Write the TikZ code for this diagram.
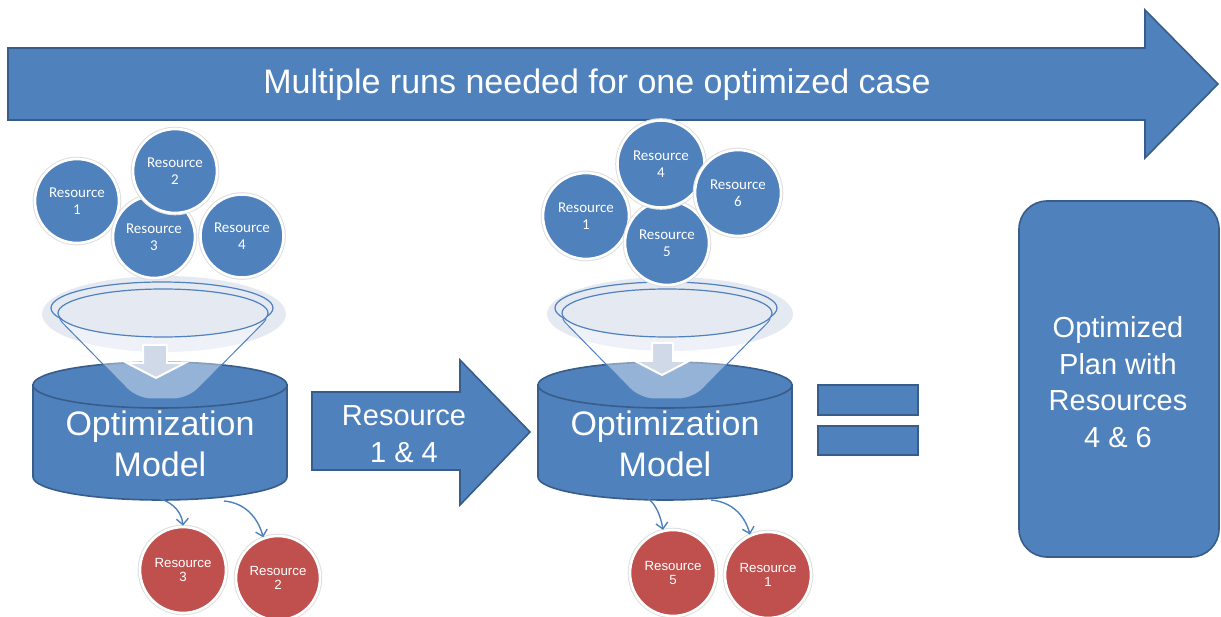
\documentclass[tikz,border=0pt]{standalone}
\usepackage{fontspec}
\setmainfont{Liberation Sans}
\newfontfamily\carlito{Carlito}
\usetikzlibrary{arrows.meta}
\definecolor{bfill}{HTML}{4F81BD}
\definecolor{bdark}{HTML}{385D8A}
\definecolor{rfill}{HTML}{C0504D}
\definecolor{lightel}{HTML}{E4E9F2}
\definecolor{farrow}{HTML}{D0D9E7}
\tikzset{
  bshape/.style={fill=bfill, draw=bdark, line width=1.6pt},
  bcirc/.style={circle, fill=bfill, draw=white, line width=2.6pt, inner sep=0pt,
    text=white, align=center, font=\carlito\fontsize{15}{17}\selectfont,
    preaction={draw=black!13, line width=4.6pt}},
  rcirc/.style={circle, fill=rfill, draw=white, line width=2.6pt, inner sep=0pt,
    text=white, align=center, font=\fontsize{13.3}{14.5}\selectfont,
    preaction={draw=black!13, line width=4.6pt}},
  bigtext/.style={text=white, align=center},
  cone/.style={fill=white, fill opacity=0.4, draw=bfill, draw opacity=1, line width=1pt, rounded corners=14pt},
  ring/.style={fill=lightel, draw=bfill, line width=1.2pt},
  farr/.style={fill=farrow, draw=white, line width=2pt},
  outarr/.style={draw=bfill, line width=1.4pt, -{Straight Barb[length=6pt,width=12pt]}},
}
\begin{document}
\begin{tikzpicture}[x=1pt,y=-1pt]
\useasboundingbox (0,0) rectangle (1221,617);

% top arrow
\draw[bshape] (8,48) -- (1145,48) -- (1145,10) -- (1218,84) -- (1145,158) -- (1145,120) -- (8,120) -- cycle;
\node[bigtext, font=\fontsize{34}{40}\selectfont] (title) at (597,85) {Multiple runs needed for one optimized case};

% ===== left group =====
\draw[bshape] (33,385) -- (33,477) arc[start angle=180, end angle=360, x radius=127pt, y radius=23pt] -- (287,385) -- cycle;
\draw[bshape] (160,385) ellipse[x radius=127pt, y radius=23pt];
\fill[lightel] (164,314) ellipse[x radius=122pt, y radius=38pt];
\draw[cone] (53,313) -- (137,399) -- (188,399) -- (273,313) -- cycle;
\draw[ring] (162,308) ellipse[x radius=111pt, y radius=26pt];
\draw[ring] (163,313) ellipse[x radius=105pt, y radius=24pt];
\draw[farr] (143,345) -- (167,345) -- (167,363) -- (185,363) -- (156,378) -- (127,363) -- (143,363) -- cycle;
\node[bigtext, font=\fontsize{34}{41}\selectfont] (om1) at (160,444) {Optimization\\Model};

\node[bcirc, minimum size=84pt] (a1) at (77,201) {Resource\\1};
\node[bcirc, minimum size=82pt] (a3) at (154,237) {Resource\\3};
\node[bcirc, minimum size=83pt] (a4) at (242,236) {Resource\\4};
\node[bcirc, minimum size=84pt] (a2) at (175,171) {Resource\\2};

\node[rcirc, minimum size=86pt] (r13) at (183,570) {Resource\\3};
\node[rcirc, minimum size=84pt] (r12) at (278,578) {Resource\\2};
\coordinate (s1a) at (151,497);
\coordinate (s1b) at (224,501);
\draw[outarr] (s1a) to[out=-5, in=95] (r13.north);
\draw[outarr] (s1b) to[out=-5, in=105] (r12.110);

% middle arrow
\draw[bshape] (312,392) -- (460,392) -- (460,360) -- (530,432) -- (460,505) -- (460,470) -- (312,470) -- cycle;
\node[bigtext, font=\fontsize{29}{37}\selectfont] (mid) at (404,434) {Resource\\1 \& 4};

% ===== right group =====
\draw[bshape] (538,385) -- (538,477) arc[start angle=180, end angle=360, x radius=127pt, y radius=23pt] -- (792,385) -- cycle;
\draw[bshape] (665,385) ellipse[x radius=127pt, y radius=23pt];
\fill[lightel] (670,314) ellipse[x radius=123pt, y radius=37pt];
\draw[cone] (556,313) -- (640,399) -- (693,399) -- (777,313) -- cycle;
\draw[ring] (666,308) ellipse[x radius=111pt, y radius=26pt];
\draw[ring] (667,313) ellipse[x radius=105pt, y radius=24pt];
\draw[farr] (652,343) -- (673,343) -- (673,361) -- (689,361) -- (662,375) -- (635,361) -- (652,361) -- cycle;
\node[bigtext, font=\fontsize{34}{41}\selectfont] (om2) at (665,444) {Optimization\\Model};

\node[bcirc, minimum size=86pt] (b1) at (586,216) {Resource\\1};
\node[bcirc, minimum size=84pt] (b5) at (667,243) {Resource\\5};
\node[bcirc, minimum size=87pt] (b4) at (661,164) {Resource\\4};
\node[bcirc, minimum size=86pt] (b6) at (738,193) {Resource\\6};

\node[rcirc, minimum size=86pt] (r25) at (673,573) {Resource\\5};
\node[rcirc, minimum size=86pt] (r21) at (768,575) {Resource\\1};
\coordinate (s2a) at (634,493);
\coordinate (s2b) at (711,500);
\draw[outarr] (s2a) to[out=-5, in=100] (r25.103);
\draw[outarr] (s2b) to[out=-5, in=105] (r21.114);

% equals sign
\draw[bshape] (818,385) rectangle (918,415);
\draw[bshape] (818,426) rectangle (918,455);

% result box
\draw[bshape, rounded corners=28pt] (1019,201) rectangle (1219,557);
\node[bigtext, font=\fontsize{29}{36.5}\selectfont] (res) at (1118,382) {Optimized\\Plan with\\Resources\\4 \& 6};
\end{tikzpicture}
\end{document}
